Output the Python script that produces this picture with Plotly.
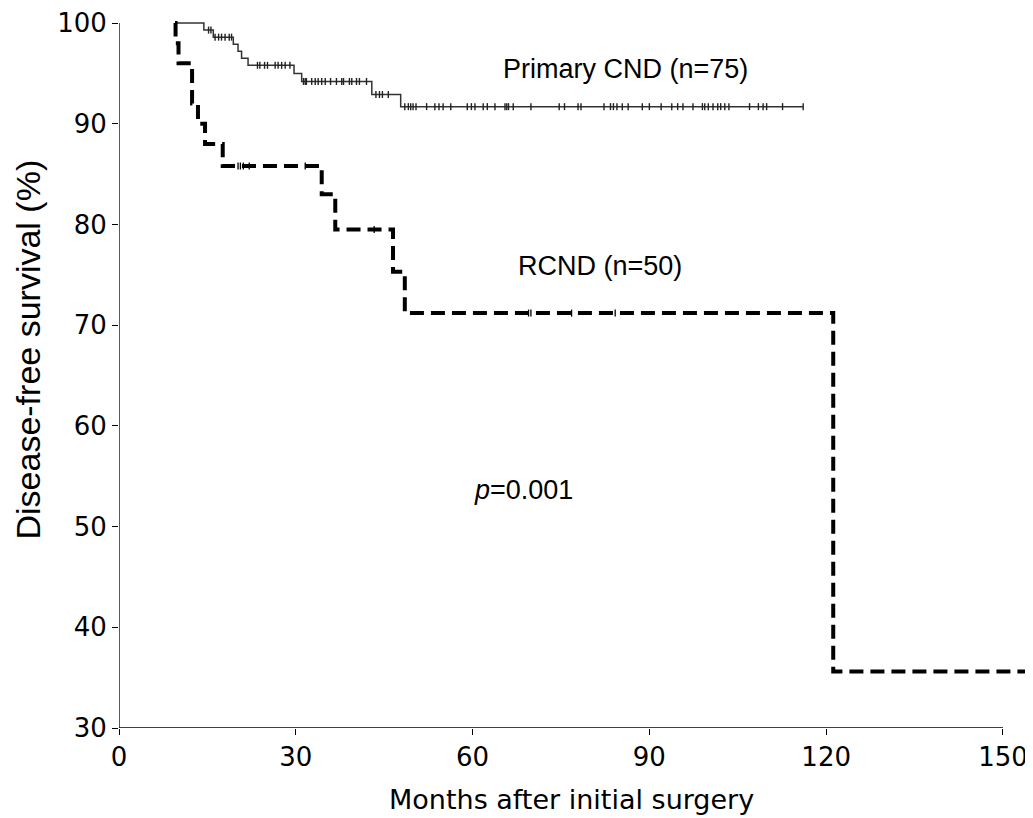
import numpy as np
import plotly.graph_objects as go

# ---- data ----
pcnd_time = [9.8, 14.4, 16.0, 19.4, 20.2, 20.8, 21.9, 29.7, 31.0, 42.9, 47.8, 116.1]
pcnd_surv = [100, 99.3, 98.6, 97.9, 97.2, 96.5, 95.8, 95.0, 94.2, 92.9, 91.7, 91.7]
pcnd_censor = [15.2, 15.6, 16.3, 16.9, 17.4, 18.0, 18.7, 19.1,
               23.5, 23.9, 24.7, 25.2, 26.5, 27.0, 27.6, 28.2, 29.0,
               31.3, 31.6, 31.8, 32.7, 33.3, 33.8, 34.4, 35.0, 35.9, 36.9, 37.8, 38.1,
               39.1, 39.5, 40.3, 40.8, 42.0, 43.6, 44.2, 44.7, 45.7,
               48.5, 49.1, 49.5, 49.9, 50.4, 52.2, 53.6, 54.3, 55.0, 56.3, 59.1, 59.8,
               60.4, 61.8, 62.5, 63.8, 65.5, 65.8, 66.1, 66.9, 69.9, 74.7, 75.6, 77.9,
               78.4, 82.3, 83.4, 83.9, 84.5, 85.4, 86.4, 88.8, 90.0, 92.0, 93.8, 94.8,
               95.7, 97.4, 99.0, 99.4, 100.0, 100.8, 101.6, 102.1, 102.8, 103.5, 107.0,
               108.5, 109.3, 109.9, 112.6, 116.1]

rcnd_time = [9.5, 9.6, 10.1, 12.4, 13.4, 14.6, 17.6, 34.4, 36.7, 46.5, 48.5, 121.2, 154.4]
rcnd_surv = [100, 98, 96, 92, 90, 88, 85.8, 83.0, 79.5, 75.3, 71.2, 35.6, 35.6]
rcnd_censor = [20.2, 20.6, 21.1, 22.1, 31.6, 43.3, 69.5, 69.9, 76.8, 84.2]

x_ticks = [0, 30, 60, 90, 120, 150]
y_ticks = [30, 40, 50, 60, 70, 80, 90, 100]

labels = {"pcnd": "Primary CND (n=75)", "rcnd": "RCND (n=50)", "p": "<i>p</i>=0.001"}
x_title = "Months after initial surgery"
y_title = "Disease-free survival (%)"


def step_value(times, surv, t):
    idx = np.searchsorted(np.array(times), t, side="right") - 1
    return np.array(surv)[idx]


fig = go.Figure()

fig.add_trace(go.Scatter(
    x=pcnd_time, y=pcnd_surv, mode="lines", line_shape="hv",
    line=dict(color="#333333", width=1.5), hoverinfo="skip"))
fig.add_trace(go.Scatter(
    x=pcnd_censor, y=step_value(pcnd_time, pcnd_surv, pcnd_censor), mode="markers",
    marker=dict(symbol="line-ns-open", size=5, color="#222222",
                line=dict(color="#222222", width=1.4)),
    hoverinfo="skip"))

fig.add_trace(go.Scatter(
    x=rcnd_time, y=rcnd_surv, mode="lines", line_shape="hv",
    line=dict(color="black", width=4, dash="14px,7px"), hoverinfo="skip"))
fig.add_trace(go.Scatter(
    x=rcnd_censor, y=step_value(rcnd_time, rcnd_surv, rcnd_censor), mode="markers",
    marker=dict(symbol="line-ns-open", size=5, color="black",
                line=dict(color="black", width=1.3)),
    hoverinfo="skip"))

# axis lines (stop at 150 / 100 like the reference)
fig.add_shape(type="line", xref="x", yref="y", x0=x_ticks[0], x1=x_ticks[-1],
              y0=y_ticks[0], y1=y_ticks[0], line=dict(color="black", width=1.3))
fig.add_shape(type="line", xref="x", yref="y", x0=x_ticks[0], x1=x_ticks[0],
              y0=y_ticks[0], y1=y_ticks[-1], line=dict(color="black", width=1.3))

ann_font = dict(family="Liberation Sans, Arial, sans-serif", size=27, color="black")
fig.add_annotation(x=85.9, y=95.4, text=labels["pcnd"], showarrow=False, font=ann_font)
fig.add_annotation(x=81.6, y=75.9, text=labels["rcnd"], showarrow=False, font=ann_font)
fig.add_annotation(x=68.7, y=53.6, text=labels["p"], showarrow=False, font=ann_font)

fig.add_annotation(xref="paper", yref="paper", x=0.4956, y=-0.101, text=x_title,
                   showarrow=False, xanchor="center", yanchor="middle",
                   font=dict(family="DejaVu Sans, Verdana, sans-serif", size=27, color="black"))
fig.add_annotation(xref="paper", yref="paper", x=-0.0990, y=0.5316, text=y_title,
                   showarrow=False, textangle=-90, xanchor="center", yanchor="middle",
                   font=dict(family="Liberation Sans, Arial, sans-serif", size=34, color="black"))

tick_font = dict(family="DejaVu Sans, Verdana, sans-serif", size=26, color="black")
fig.update_xaxes(range=[0, 155.1], tickvals=x_ticks, ticks="outside", ticklen=6,
                 tickcolor="black", tickwidth=1.2, showline=False, showgrid=False,
                 zeroline=False, tickfont=tick_font)
fig.update_yaxes(range=[30, 100.6], tickvals=y_ticks, ticks="outside", ticklen=6,
                 tickcolor="black", tickwidth=1.2, showline=False, showgrid=False,
                 zeroline=False, tickfont=tick_font)

# the page body has an 8 px margin, so the figure is 8 px smaller and shifted
fig.update_layout(width=1025, height=810, margin=dict(l=111, r=0, t=9, b=90),
                  plot_bgcolor="white", paper_bgcolor="white", showlegend=False)

fig.write_html("out.html")
